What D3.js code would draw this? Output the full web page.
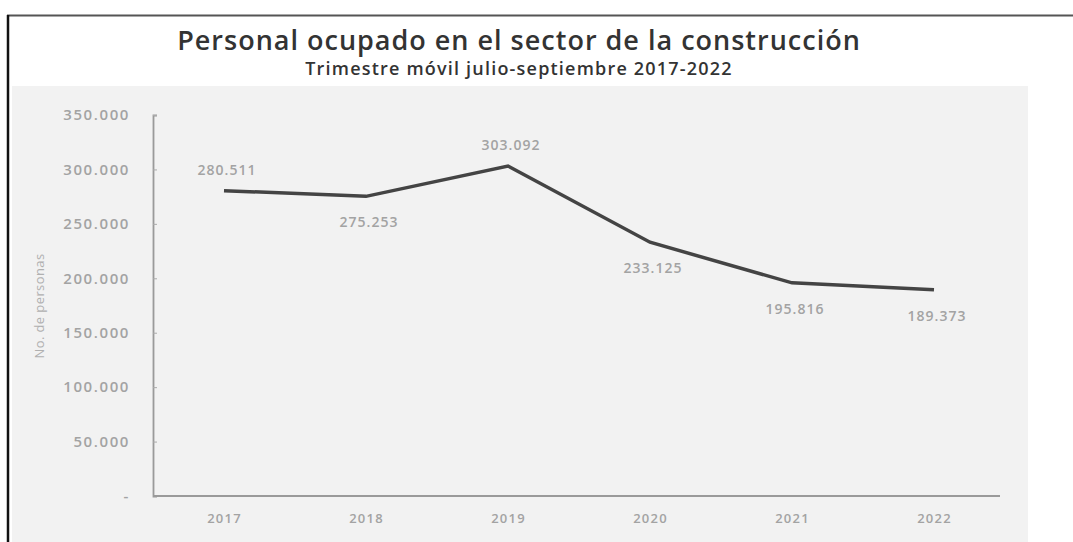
<!DOCTYPE html>
<html>
<head>
<meta charset="utf-8">
<script src="https://cdn.jsdelivr.net/npm/d3@7/dist/d3.min.js"></script>
<style>
  html, body { margin: 0; padding: 0; background: #ffffff; }
  svg { display: block; }
</style>
</head>
<body>
<script>
// Data: persons employed in construction, July–September rolling quarter
const years = ["2017", "2018", "2019", "2020", "2021", "2022"];
const employed = [280511, 275253, 303092, 233125, 195816, 189373];
const valueLabels = ["280.511", "275.253", "303.092", "233.125", "195.816", "189.373"];
const labelAbove = [true, false, true, false, false, false];
const yTicks = [0, 50000, 100000, 150000, 200000, 250000, 300000, 350000];

const W = 1073, H = 542;
const svg = d3.select("body").append("svg").attr("width", W).attr("height", H);

// Frame lines
svg.append("line").attr("x1", 7).attr("x2", W).attr("y1", 15.5).attr("y2", 15.5)
  .attr("stroke", "#555").attr("stroke-width", 2);
svg.append("line").attr("x1", 8).attr("x2", 8).attr("y1", 15).attr("y2", H)
  .attr("stroke", "#111").attr("stroke-width", 2.5);

// Plot background panel
svg.append("rect").attr("x", 12).attr("y", 86).attr("width", 1016).attr("height", H - 86)
  .attr("fill", "#f2f2f2");

// Titles
svg.append("text").attr("x", 519).attr("y", 50).attr("text-anchor", "middle")
  .attr("font-family", "'Open Sans', sans-serif").attr("font-weight", 600)
  .attr("font-size", 27).attr("letter-spacing", 1).attr("fill", "#333")
  .text("Personal ocupado en el sector de la construcción");
svg.append("text").attr("x", 519).attr("y", 75).attr("text-anchor", "middle")
  .attr("font-family", "'Open Sans', sans-serif").attr("font-weight", 600)
  .attr("font-size", 18).attr("letter-spacing", 1.2).attr("fill", "#333")
  .text("Trimestre móvil julio-septiembre 2017-2022");

// Scales
const x = d3.scalePoint().domain(years).range([153, 1005]).padding(0.5);
const y = d3.scaleLinear().domain([0, 350000]).range([496, 115]);

const fmt = v => v === 0 ? "-" : d3.format(",")(v).replace(/,/g, ".");

const labelFont = "'Open Sans', sans-serif";
const labelGray = "#a3a3a3";

// Y axis
const yAxis = svg.append("g").attr("transform", "translate(153,0)")
  .call(d3.axisLeft(y).tickValues(yTicks).tickFormat(fmt).tickSize(-4).tickPadding(0));
yAxis.select(".domain").attr("stroke", "#9a9a9a").attr("stroke-width", 1.8);
yAxis.selectAll(".tick line").attr("stroke", "#aaa");
yAxis.selectAll(".tick text")
  .attr("x", -23)
  .attr("font-family", labelFont).attr("font-weight", 600)
  .attr("font-size", 15).attr("letter-spacing", 1.6).attr("fill", labelGray);

// X axis
const xAxis = svg.append("g").attr("transform", "translate(0,496)")
  .call(d3.axisBottom(x).tickSize(0).tickPadding(18));
xAxis.select(".domain").attr("d", "M153,0H1000").attr("stroke", "#9a9a9a").attr("stroke-width", 1.8);
xAxis.selectAll(".tick text")
  .attr("font-family", labelFont).attr("font-weight", 600)
  .attr("font-size", 13).attr("letter-spacing", 1.2).attr("fill", labelGray);

// Y axis title
svg.append("text")
  .attr("transform", "translate(44,306) rotate(-90)")
  .attr("text-anchor", "middle")
  .attr("font-family", labelFont)
  .attr("font-size", 13).attr("letter-spacing", 0.4).attr("fill", "#b0b0b0")
  .text("No. de personas");

// Line
const line = d3.line().x((d, i) => x(years[i])).y(d => y(d));
svg.append("path").datum(employed)
  .attr("d", line)
  .attr("fill", "none").attr("stroke", "#444").attr("stroke-width", 3.5)
  .attr("stroke-linejoin", "miter");

// Value labels
svg.selectAll("text.val").data(employed).enter().append("text")
  .attr("class", "val")
  .attr("x", (d, i) => x(years[i]) + 3)
  .attr("y", (d, i) => labelAbove[i] ? y(d) - 16 : y(d) + 31)
  .attr("text-anchor", "middle")
  .attr("font-family", labelFont).attr("font-weight", 600)
  .attr("font-size", 14).attr("letter-spacing", 1).attr("fill", labelGray)
  .text((d, i) => valueLabels[i]);
</script>
</body>
</html>
